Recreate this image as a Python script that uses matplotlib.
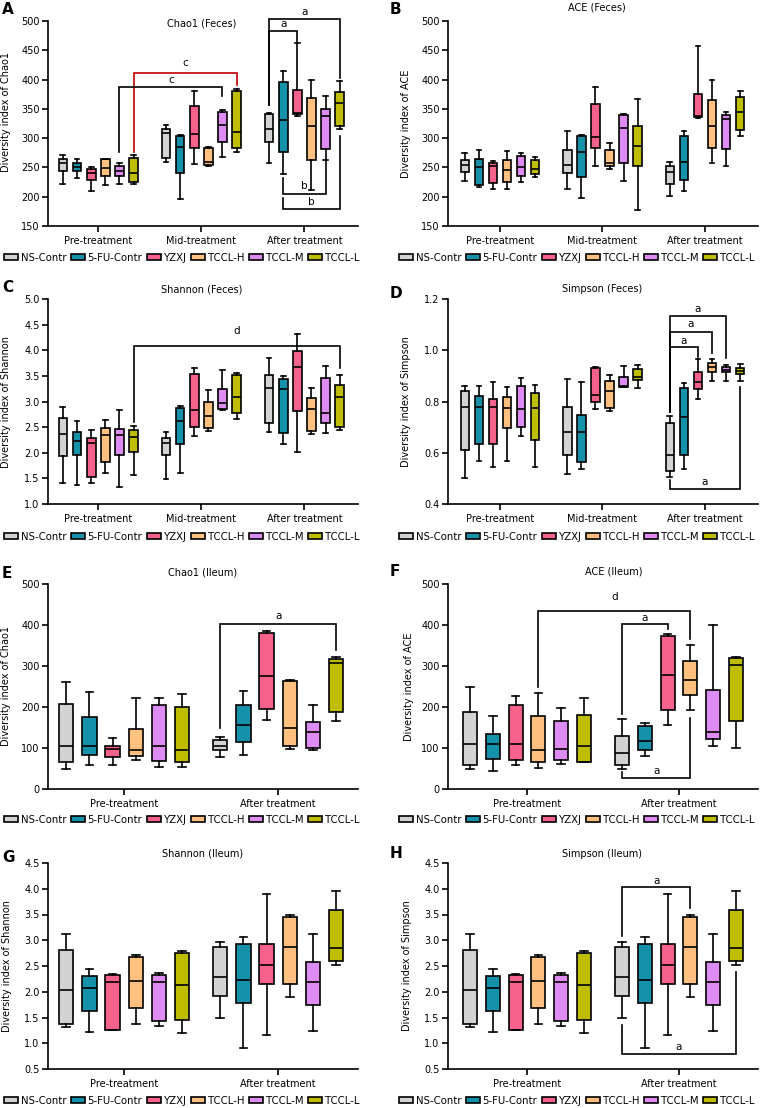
import matplotlib
matplotlib.use("Agg")
import matplotlib.pyplot as plt
from matplotlib.patches import Patch
import numpy as np

plt.rcParams['font.family'] = ['DejaVu Sans']

# ---------------- data ----------------
group_names = ['NS-Contr', '5-FU-Contr', 'YZXJ', 'TCCL-H', 'TCCL-M', 'TCCL-L']
group_colors = ['#D3D3D3', '#1592AA', '#F7628C', '#FFC080', '#DF8BF4', '#BFBD00']
phases3 = ['Pre-treatment', 'Mid-treatment', 'After treatment']
phases2 = ['Pre-treatment', 'After treatment']

# each box: (whislo, q1, median, q3, whishi)
chao1_feces = [
    [(221, 244, 257, 265, 272), (232, 244, 251, 258, 265), (210, 228, 240, 248, 250),
     (220, 236, 249, 264, 265), (222, 235, 244, 252, 257), (221, 225, 240, 266, 272)],
    [(259, 266, 309, 315, 322), (196, 240, 285, 303, 305), (256, 283, 307, 355, 380),
     (252, 254, 260, 284, 285), (267, 293, 322, 344, 348), (276, 283, 310, 380, 384)],
    [(258, 293, 315, 341, 343), (239, 276, 331, 396, 415), (337, 341, 343, 383, 463),
     (212, 262, 320, 369, 399), (263, 282, 338, 350, 372), (315, 320, 360, 379, 398)],
]
ace_feces = [
    [(227, 243, 254, 263, 274), (216, 220, 251, 265, 280), (214, 223, 253, 258, 261),
     (213, 225, 245, 263, 278), (225, 235, 251, 269, 274), (233, 238, 248, 263, 268)],
    [(213, 240, 254, 279, 313), (197, 234, 277, 304, 306), (253, 284, 302, 359, 387),
     (248, 252, 258, 280, 291), (226, 258, 318, 339, 342), (178, 252, 286, 321, 367)],
    [(201, 222, 242, 252, 259), (209, 229, 260, 304, 312), (334, 336, 338, 375, 457),
     (257, 284, 320, 365, 400), (252, 281, 333, 340, 345), (303, 314, 345, 371, 380)],
]
shannon_feces = [
    [(1.41, 1.93, 2.37, 2.67, 2.89), (1.38, 1.96, 2.23, 2.41, 2.62), (1.41, 1.53, 2.19, 2.28, 2.45),
     (1.60, 1.82, 2.34, 2.49, 2.63), (1.34, 1.95, 2.34, 2.46, 2.83), (1.57, 2.01, 2.30, 2.45, 2.52)],
    [(1.48, 1.95, 2.20, 2.28, 2.40), (1.61, 2.17, 2.62, 2.88, 2.92), (2.33, 2.50, 2.83, 3.54, 3.66),
     (2.43, 2.48, 2.71, 3.00, 3.23), (2.84, 2.85, 2.97, 3.24, 3.62), (2.66, 2.77, 3.08, 3.52, 3.56)],
    [(2.40, 2.59, 3.26, 3.51, 3.84), (2.18, 2.38, 3.24, 3.43, 3.49), (2.02, 2.82, 3.68, 3.99, 4.32),
     (2.36, 2.42, 2.85, 3.07, 3.27), (2.38, 2.59, 2.78, 3.46, 3.70), (2.44, 2.50, 3.08, 3.33, 3.51)],
]
simpson_feces = [
    [(0.500, 0.612, 0.778, 0.840, 0.859), (0.567, 0.636, 0.778, 0.822, 0.862),
     (0.543, 0.633, 0.778, 0.808, 0.877), (0.567, 0.695, 0.773, 0.818, 0.855),
     (0.667, 0.702, 0.770, 0.862, 0.891), (0.545, 0.650, 0.773, 0.835, 0.865)],
    [(0.517, 0.592, 0.680, 0.778, 0.886), (0.535, 0.562, 0.680, 0.747, 0.878),
     (0.769, 0.797, 0.825, 0.930, 0.934), (0.762, 0.776, 0.840, 0.879, 0.905),
     (0.858, 0.858, 0.862, 0.895, 0.940), (0.852, 0.883, 0.897, 0.925, 0.943)],
    [(0.507, 0.527, 0.592, 0.716, 0.742), (0.538, 0.591, 0.738, 0.852, 0.873),
     (0.810, 0.850, 0.876, 0.916, 0.966), (0.879, 0.917, 0.936, 0.951, 0.966),
     (0.881, 0.915, 0.924, 0.934, 0.943), (0.881, 0.908, 0.919, 0.930, 0.946)],
]
chao1_ileum = [
    [(49, 66, 104, 208, 260), (58, 82, 106, 175, 236), (58, 78, 97, 105, 124),
     (71, 81, 96, 147, 223), (53, 69, 106, 204, 222), (53, 67, 96, 200, 232)],
    [(78, 96, 106, 119, 126), (82, 114, 155, 204, 239), (169, 196, 276, 380, 386),
     (98, 104, 150, 264, 266), (94, 100, 140, 163, 205), (166, 187, 308, 317, 323)],
]
ace_ileum = [
    [(50, 59, 110, 188, 248), (45, 74, 110, 135, 179), (59, 70, 110, 204, 228),
     (51, 67, 94, 177, 234), (61, 70, 98, 166, 197), (66, 67, 104, 181, 223)],
    [(50, 59, 89, 130, 171), (81, 94, 116, 153, 161), (155, 192, 278, 373, 377),
     (193, 230, 265, 312, 351), (106, 122, 138, 242, 399), (101, 166, 303, 319, 322)],
]
shannon_ileum = [
    [(1.32, 1.37, 2.04, 2.81, 3.13), (1.21, 1.63, 2.08, 2.30, 2.44), (1.26, 1.26, 2.18, 2.32, 2.35),
     (1.38, 1.69, 2.20, 2.67, 2.72), (1.34, 1.44, 2.18, 2.32, 2.37), (1.19, 1.45, 2.14, 2.75, 2.79)],
    [(1.50, 1.92, 2.28, 2.87, 2.96), (0.91, 1.79, 2.23, 2.93, 3.06), (1.16, 2.15, 2.52, 2.92, 3.90),
     (1.89, 2.15, 2.87, 3.45, 3.50), (1.23, 1.74, 2.19, 2.57, 3.12), (2.51, 2.59, 2.85, 3.58, 3.95)],
]
simpson_ileum = [
    [(1.32, 1.37, 2.04, 2.81, 3.13), (1.21, 1.63, 2.08, 2.30, 2.44), (1.26, 1.26, 2.18, 2.32, 2.35),
     (1.38, 1.69, 2.20, 2.67, 2.72), (1.34, 1.44, 2.18, 2.32, 2.37), (1.19, 1.45, 2.14, 2.75, 2.79)],
    [(1.50, 1.92, 2.28, 2.87, 2.96), (0.91, 1.79, 2.23, 2.93, 3.06), (1.16, 2.15, 2.52, 2.92, 3.90),
     (1.89, 2.15, 2.87, 3.45, 3.50), (1.23, 1.74, 2.19, 2.57, 3.12), (2.51, 2.59, 2.85, 3.58, 3.95)],
]

# significance brackets: (phase_l, box_l, y_l, y_bar, phase_r, box_r, y_r, label, y_label, color)
brackets_A = [
    (0, 5, 276, 411, 1, 5, 391, 'c', 428, '#C00000'),
    (0, 4, 276, 387, 1, 4, 372, 'c', 399, 'black'),
    (2, 0, 357, 503, 2, 5, 403, 'a', 516, 'black'),
    (2, 0, 357, 483, 2, 2, 464, 'a', 495, 'black'),
    (2, 1, 232, 205, 2, 4, 261, 'b', 219, 'black'),
    (2, 1, 198, 179, 2, 5, 304, 'b', 191, 'black'),
]
brackets_C = [(0, 5, 2.60, 4.08, 2, 5, 3.65, 'd', 4.37, 'black')]
brackets_D = [
    (2, 0, 0.759, 1.134, 2, 4, 0.970, 'a', 1.162, 'black'),
    (2, 0, 0.759, 1.071, 2, 3, 0.989, 'a', 1.102, 'black'),
    (2, 0, 0.759, 1.013, 2, 2, 0.974, 'a', 1.038, 'black'),
    (2, 0, 0.494, 0.458, 2, 5, 0.857, 'a', 0.487, 'black'),
]
brackets_E = [(1, 0, 149, 402, 1, 5, 339, 'a', 423, 'black')]
brackets_F = [
    (0, 3, 249, 434, 1, 3, 366, 'd', 469, 'black'),
    (1, 0, 183, 402, 1, 2, 390, 'a', 418, 'black'),
    (1, 0, 41, 27, 1, 3, 173, 'a', 45, 'black'),
]
brackets_H = [
    (1, 0, 3.08, 4.03, 1, 3, 3.63, 'a', 4.16, 'black'),
    (1, 0, 1.35, 0.79, 1, 5, 2.38, 'a', 0.92, 'black'),
]

# ---------------- layout ----------------
W, H = 771, 1108
fig = plt.figure(figsize=(W / 100, H / 100), dpi=100)

LW = 1.2
FS = 7

def px_rect(l, t, r, b):
    return [l / W, 1 - b / H, (r - l) / W, (b - t) / H]

panels = [
    # letter, data, phases, rect(px), ylim, yticks, fmt, title, title_xy, ylabel, ylabel_xy, letter_xy, brackets, legend_xy
    ('A', chao1_feces, phases3, (48, 21, 358, 226), (150, 500), np.arange(150, 501, 50), '%d',
     'Chao1 (Feces)', (0.497, 0.99), 'Diversity index of Chao1', (-0.12, 0.555), (2, 9), brackets_A, (4, 258)),
    ('B', ace_feces, phases3, (448, 21, 758, 226), (150, 500), np.arange(150, 501, 50), '%d',
     'ACE (Feces)', (0.48, 1.068), 'Diversity index of ACE', (-0.12, 0.5), (390, 9), [], (399, 258)),
    ('C', shannon_feces, phases3, (48, 299, 358, 504), (1.0, 5.0), np.arange(1.0, 5.01, 0.5), '%.1f',
     'Shannon (Feces)', (0.497, 1.044), 'Diversity index of Shannon', (-0.12, 0.5), (2, 287), brackets_C, (4, 537)),
    ('D', simpson_feces, phases3, (448, 299, 758, 504), (0.4, 1.2), np.arange(0.4, 1.21, 0.2), '%.1f',
     'Simpson (Feces)', (0.497, 1.049), 'Diversity index of Simpson', (-0.12, 0.5), (390, 293), brackets_D, (399, 537)),
    ('E', chao1_ileum, phases2, (48, 584, 358, 789), (0, 500), np.arange(0, 501, 100), '%d',
     'Chao1 (Ileum)', (0.497, 1.054), 'Diversity index of Chao1', (-0.12, 0.5), (2, 574), brackets_E, (4, 820)),
    ('F', ace_ileum, phases2, (448, 584, 758, 789), (0, 500), np.arange(0, 501, 100), '%d',
     'ACE (Ileum)', (0.535, 1.063), 'Diversity index of ACE', (-0.11, 0.5), (390, 572), brackets_F, (399, 820)),
    ('G', shannon_ileum, phases2, (48, 863, 358, 1069), (0.5, 4.5), np.arange(0.5, 4.51, 0.5), '%.1f',
     'Shannon (Ileum)', (0.497, 1.044), 'Diversity index of Shannon', (-0.115, 0.5), (2, 857), [], (4, 1101)),
    ('H', simpson_ileum, phases2, (448, 863, 758, 1069), (0.5, 4.5), np.arange(0.5, 4.51, 0.5), '%.1f',
     'Simpson (Ileum)', (0.497, 1.044), 'Diversity index of Simpson', (-0.115, 0.5), (390, 854), brackets_H, (399, 1101)),
]

for (letter, data, phases, rect, ylim, yticks, fmt, title, title_xy, ylabel, ylabel_xy,
     letter_xy, brackets, legend_xy) in panels:
    l, t, r, b = rect
    ax = fig.add_axes(px_rect(l, t, r, b))
    n = len(phases)
    if n == 3:
        step, width = 0.137, 0.085
    else:
        step, width = 0.150, 0.092

    def xpos(ph, i):
        return ph + (i - 2.5) * step

    for ph in range(n):
        stats = []
        for i in range(6):
            lo, q1, med, q3, hi = data[ph][i]
            stats.append(dict(whislo=lo, q1=q1, med=med, q3=q3, whishi=hi, fliers=[]))
        pos = [xpos(ph, i) for i in range(6)]
        bp = ax.bxp(stats, positions=pos, widths=width, capwidths=width * 0.55,
                    patch_artist=True, showfliers=False, manage_ticks=False,
                    boxprops=dict(linewidth=LW, edgecolor='black'),
                    medianprops=dict(color='black', linewidth=LW),
                    whiskerprops=dict(color='black', linewidth=LW),
                    capprops=dict(color='black', linewidth=LW))
        for patch, c in zip(bp['boxes'], group_colors):
            patch.set_facecolor(c)

    for (pl, bl, yl, ybar, pr, br, yr, lab, ylab, col) in brackets:
        x1, x2 = xpos(pl, bl), xpos(pr, br)
        ax.plot([x1, x1, x2, x2], [yl, ybar, ybar, yr], color=col, lw=LW,
                clip_on=False, solid_joinstyle='miter', zorder=5)
        ax.text((x1 + x2) / 2, ylab, lab, ha='center', va='center', fontsize=7.5,
                color='black', clip_on=False)

    if n == 3:
        if l < 100:
            ax.set_xlim(-0.487, 2.52)
        else:
            ax.set_xlim(-0.507, 2.517)
    else:
        if l < 100:
            ax.set_xlim(-0.494, 1.519)
        else:
            ax.set_xlim(-0.52, 1.52)
    ax.set_ylim(*ylim)
    ax.set_yticks(yticks)
    ax.set_yticklabels([fmt % v for v in yticks])
    ax.set_xticks(range(n))
    ax.set_xticklabels(phases)
    for s in ['top', 'right']:
        ax.spines[s].set_visible(False)
    for s in ['left', 'bottom']:
        ax.spines[s].set_linewidth(LW)
    ax.tick_params(axis='both', direction='out', length=4, width=LW, labelsize=FS, pad=2)
    ax.tick_params(axis='x', pad=3)
    ax.set_ylabel(ylabel, fontsize=FS)
    ax.yaxis.set_label_coords(*ylabel_xy)
    ax.text(title_xy[0], title_xy[1], title, transform=ax.transAxes, ha='center',
            va='center', fontsize=FS)
    fig.text(letter_xy[0] / W, 1 - letter_xy[1] / H, letter, fontsize=11, fontweight='bold',
             ha='left', va='center')

    handles = [Patch(facecolor=c, edgecolor='black', linewidth=LW, label=nm)
               for c, nm in zip(group_colors, group_names)]
    fig.legend(handles=handles, loc='center left', ncol=6,
               bbox_to_anchor=(legend_xy[0] / W, 1 - legend_xy[1] / H),
               frameon=False, fontsize=7.3, handlelength=1.4, handleheight=0.55,
               handletextpad=0.25, columnspacing=0.45, borderpad=0, borderaxespad=0)

fig.savefig('out.png', dpi=100)
